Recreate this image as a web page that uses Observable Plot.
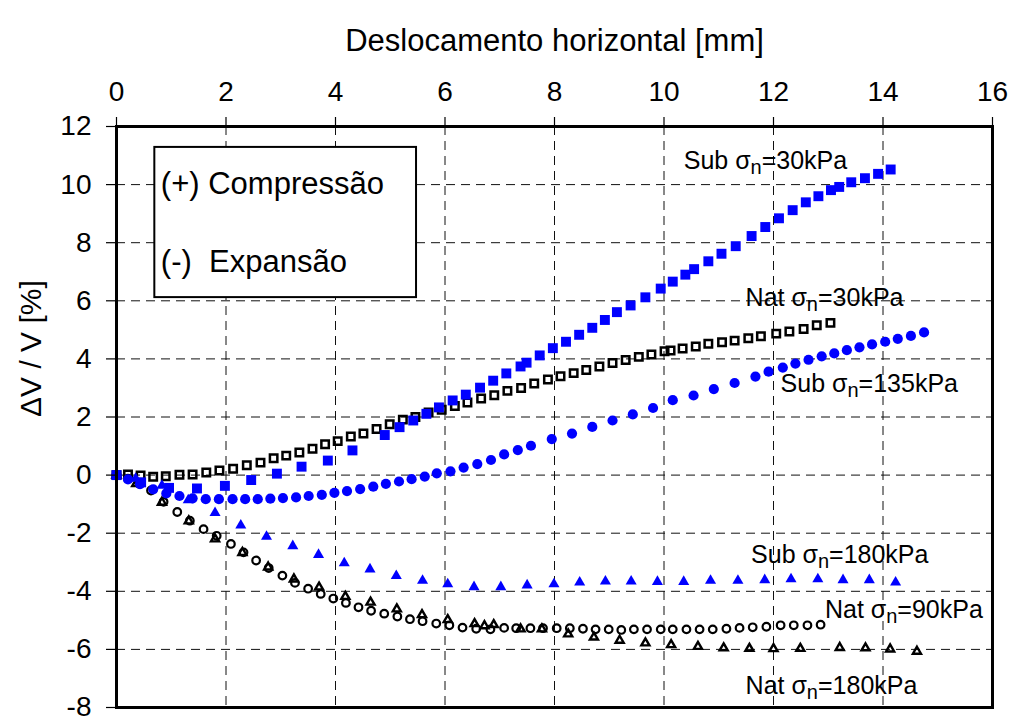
<!DOCTYPE html>
<html><head><meta charset="utf-8">
<script src="https://cdn.jsdelivr.net/npm/d3@7"></script>
<script src="https://cdn.jsdelivr.net/npm/@observablehq/plot@0.6"></script>
<style>body{margin:0;background:#fff;}</style>
</head><body><div id="chart"></div>
<script>
// ---- data (x = deslocamento horizontal [mm], y = ΔV/V [%]) ----
const subSigma30 = [[0,0],[0.45,-0.25],[0.96,-0.44],[1.47,-0.46],[1.98,-0.37],[2.46,-0.17],[2.93,0.05],[3.38,0.29],[3.86,0.50],[4.31,0.85],[4.90,1.38],[5.17,1.65],[5.42,1.88],[5.66,2.11],[5.89,2.33],[6.14,2.57],[6.38,2.77],[6.64,3.01],[6.88,3.25],[7.12,3.50],[7.38,3.74],[7.49,3.87],[7.73,4.12],[7.97,4.37],[8.21,4.59],[8.45,4.83],[8.69,5.07],[8.92,5.34],[9.14,5.61],[9.39,5.84],[9.66,6.12],[9.94,6.42],[10.16,6.66],[10.39,6.90],[10.55,7.09],[10.81,7.36],[11.05,7.62],[11.31,7.88],[11.60,8.23],[11.85,8.54],[12.10,8.84],[12.35,9.12],[12.59,9.39],[12.82,9.60],[13.05,9.81],[13.20,9.92],[13.42,10.08],[13.67,10.22],[13.91,10.37],[14.14,10.52]];
const natSigma30 = [[0,0],[0.21,0.02],[0.44,-0.01],[0.67,-0.06],[0.90,-0.04],[1.15,0.01],[1.39,0.02],[1.64,0.09],[1.88,0.16],[2.13,0.22],[2.38,0.34],[2.63,0.43],[2.87,0.58],[3.10,0.67],[3.34,0.78],[3.58,0.91],[3.81,1.06],[4.04,1.17],[4.28,1.33],[4.51,1.43],[4.75,1.59],[4.99,1.75],[5.23,1.91],[5.46,2.00],[5.70,2.16],[5.94,2.25],[6.18,2.38],[6.41,2.50],[6.66,2.64],[6.90,2.75],[7.14,2.90],[7.39,3.00],[7.63,3.15],[7.88,3.29],[8.11,3.40],[8.35,3.51],[8.58,3.62],[8.82,3.74],[9.06,3.86],[9.30,3.96],[9.54,4.07],[9.77,4.15],[10.01,4.26],[10.12,4.29],[10.34,4.36],[10.58,4.43],[10.81,4.52],[11.06,4.57],[11.29,4.63],[11.54,4.71],[11.77,4.78],[12.05,4.87],[12.29,4.94],[12.55,5.03],[12.79,5.16],[13.04,5.24]];
const subSigma135 = [[0,0],[0.21,-0.15],[0.43,-0.31],[0.67,-0.49],[0.91,-0.63],[1.15,-0.72],[1.39,-0.80],[1.63,-0.83],[1.87,-0.83],[2.12,-0.83],[2.35,-0.83],[2.58,-0.83],[2.81,-0.81],[3.04,-0.79],[3.28,-0.77],[3.51,-0.72],[3.75,-0.68],[3.98,-0.61],[4.21,-0.55],[4.45,-0.48],[4.69,-0.40],[4.92,-0.30],[5.16,-0.22],[5.39,-0.14],[5.63,-0.05],[5.85,0.06],[6.10,0.13],[6.34,0.26],[6.59,0.38],[6.84,0.52],[7.08,0.71],[7.33,0.86],[7.57,1.01],[7.95,1.24],[8.32,1.43],[8.69,1.66],[9.06,1.88],[9.43,2.09],[9.80,2.31],[10.16,2.58],[10.54,2.74],[10.91,2.96],[11.29,3.17],[11.67,3.39],[11.91,3.56],[12.17,3.70],[12.40,3.84],[12.64,3.97],[12.88,4.09],[13.11,4.19],[13.34,4.30],[13.57,4.40],[13.80,4.50],[14.04,4.59],[14.27,4.69],[14.51,4.79],[14.75,4.91]];
const subSigma180 = [[0,0],[0.35,-0.12],[0.83,-0.36],[1.31,-0.86],[1.80,-1.30],[2.27,-1.73],[2.74,-2.12],[3.22,-2.44],[3.69,-2.74],[4.16,-3.03],[4.63,-3.24],[5.11,-3.47],[5.59,-3.63],[6.05,-3.75],[6.53,-3.85],[7.02,-3.85],[7.50,-3.79],[7.99,-3.75],[8.46,-3.69],[8.93,-3.66],[9.40,-3.66],[9.88,-3.67],[10.36,-3.67],[10.85,-3.63],[11.35,-3.63],[11.84,-3.61],[12.32,-3.58],[12.81,-3.58],[13.27,-3.61],[13.75,-3.61],[14.23,-3.69]];
const natSigma90 = [[0,0],[0.21,-0.12],[0.42,-0.30],[0.63,-0.53],[0.86,-0.92],[1.11,-1.27],[1.34,-1.57],[1.59,-1.86],[1.83,-2.09],[2.09,-2.37],[2.32,-2.66],[2.55,-2.94],[2.78,-3.20],[3.03,-3.46],[3.26,-3.71],[3.50,-3.91],[3.73,-4.09],[3.96,-4.25],[4.19,-4.40],[4.42,-4.55],[4.65,-4.67],[4.89,-4.77],[5.13,-4.87],[5.36,-4.96],[5.59,-5.03],[5.84,-5.11],[6.08,-5.17],[6.32,-5.25],[6.57,-5.29],[6.83,-5.31],[7.08,-5.26],[7.30,-5.27],[7.56,-5.27],[7.79,-5.27],[8.04,-5.27],[8.28,-5.27],[8.52,-5.29],[8.75,-5.31],[8.99,-5.31],[9.22,-5.33],[9.45,-5.31],[9.69,-5.31],[9.94,-5.31],[10.16,-5.31],[10.41,-5.31],[10.65,-5.31],[10.89,-5.31],[11.14,-5.29],[11.38,-5.26],[11.62,-5.24],[11.87,-5.22],[12.13,-5.17],[12.37,-5.17],[12.62,-5.17],[12.86,-5.15]];
const natSigma180 = [[0,0],[0.36,-0.30],[0.83,-0.94],[1.32,-1.58],[1.80,-2.20],[2.30,-2.67],[2.77,-3.17],[3.24,-3.58],[3.70,-3.86],[4.18,-4.18],[4.64,-4.38],[5.12,-4.61],[5.58,-4.81],[6.05,-4.98],[6.54,-5.12],[6.72,-5.19],[6.89,-5.15],[7.38,-5.30],[7.77,-5.30],[8.25,-5.47],[8.72,-5.58],[9.19,-5.69],[9.66,-5.78],[10.13,-5.84],[10.62,-5.90],[11.09,-5.95],[11.56,-5.97],[12.00,-5.98],[12.49,-5.97],[13.21,-5.94],[13.68,-5.95],[14.13,-5.99],[14.62,-6.07]];

const xTicks = [0, 2, 4, 6, 8, 10, 12, 14, 16];
const yTicks = [-8, -6, -4, -2, 0, 2, 4, 6, 8, 10, 12];
const xTitle = "Deslocamento horizontal [mm]";
const yTitle = "ΔV / V [%]";

// curve labels (anchored at their left end, data units)
const curveLabels = [
  {text: "Sub σn=30kPa",  x: 10.36, y: 10.82},
  {text: "Nat σn=30kPa",  x: 11.49, y: 6.11},
  {text: "Sub σn=135kPa", x: 12.13, y: 3.12},
  {text: "Sub σn=180kPa", x: 11.59, y: -2.75},
  {text: "Nat σn=90kPa",  x: 12.94, y: -4.65},
  {text: "Nat σn=180kPa", x: 11.49, y: -7.27}
];
const noteBox = [{x1: 0.70, x2: 5.48, y1: 6.11, y2: 11.28}];
const noteLines = [
  {text: "(+) Compressão", x: 0.81, y: 10.03},
  {text: "(-)\u00a0\u00a0Expansão", x: 0.81, y: 7.35}
];

const toRows = (arr) => arr.map(([x, y]) => ({x, y}));
const blue = "#0000ff";
const fmt = (d) => String(d);

const plot = Plot.plot({
  width: 1013,
  height: 720,
  marginLeft: 116,
  marginRight: 21,
  marginTop: 126,
  marginBottom: 13,
  style: {fontFamily: "'Liberation Sans', Arial, Helvetica, sans-serif", background: "white", color: "black"},
  x: {domain: [0, 16]},
  y: {domain: [-8, 12]},
  marks: [
    Plot.ruleX(xTicks.slice(1, -1), {stroke: "#111", strokeWidth: 1, strokeDasharray: "9,6"}),
    Plot.ruleY(yTicks.slice(1, -1), {stroke: "#111", strokeWidth: 1, strokeDasharray: "9,6"}),
    Plot.rect(noteBox, {x1: "x1", x2: "x2", y1: "y1", y2: "y2", fill: "white", stroke: "black", strokeWidth: 2}),
    Plot.text(noteLines, {x: "x", y: "y", text: "text", textAnchor: "start", fontSize: 31, fill: "black"}),
    Plot.dot(toRows(natSigma180), {x: "x", y: "y", symbol: "triangle", r: 3.0, stroke: "black", strokeWidth: 2.4, fill: "none"}),
    Plot.dot(toRows(natSigma90), {x: "x", y: "y", symbol: "circle", r: 3.8, stroke: "black", strokeWidth: 2.2, fill: "none"}),
    Plot.dot(toRows(natSigma30), {x: "x", y: "y", symbol: "square", r: 4.2, stroke: "black", strokeWidth: 2.5, fill: "none"}),
    Plot.dot(toRows(subSigma180), {x: "x", y: "y", symbol: "triangle", r: 4.1, fill: blue, stroke: "none"}),
    Plot.dot(toRows(subSigma135), {x: "x", y: "y", symbol: "circle", r: 5.1, fill: blue, stroke: "none"}),
    Plot.dot(toRows(subSigma30), {x: "x", y: "y", symbol: "square", r: 5.6, fill: blue, stroke: "none"}),
    Plot.text(curveLabels, {x: "x", y: "y", text: "text", textAnchor: "start", fontSize: 25, fill: "black"}),
    Plot.frame({stroke: "black", strokeWidth: 3}),
    Plot.axisX(xTicks, {anchor: "top", tickSize: 10, tickPadding: 16, fontSize: 28, tickFormat: fmt, label: null, stroke: "black", strokeWidth: 1.2}),
    Plot.axisY(yTicks, {anchor: "left", tickSize: 10, tickPadding: 15, fontSize: 28, tickFormat: fmt, label: null, stroke: "black", strokeWidth: 1.2}),
    Plot.text([xTitle], {frameAnchor: "top", dy: -98, fontSize: 31, fill: "black"}),
    Plot.text([yTitle], {frameAnchor: "left", dx: -85, rotate: -90, fontSize: 30, fill: "black"})
  ]
});

// subscript "n" in the curve labels
d3.select(plot).selectAll("text").each(function () {
  const t = this.textContent;
  if (t.includes("σn")) {
    const [a, b] = t.split("σn");
    const sel = d3.select(this);
    sel.text(null);
    sel.append("tspan").text(a + "σ");
    sel.append("tspan").attr("dy", 5).attr("font-size", 20).text("n");
    sel.append("tspan").attr("dy", -5).text(b);
  }
});

document.getElementById("chart").appendChild(plot);
</script>
</body></html>
